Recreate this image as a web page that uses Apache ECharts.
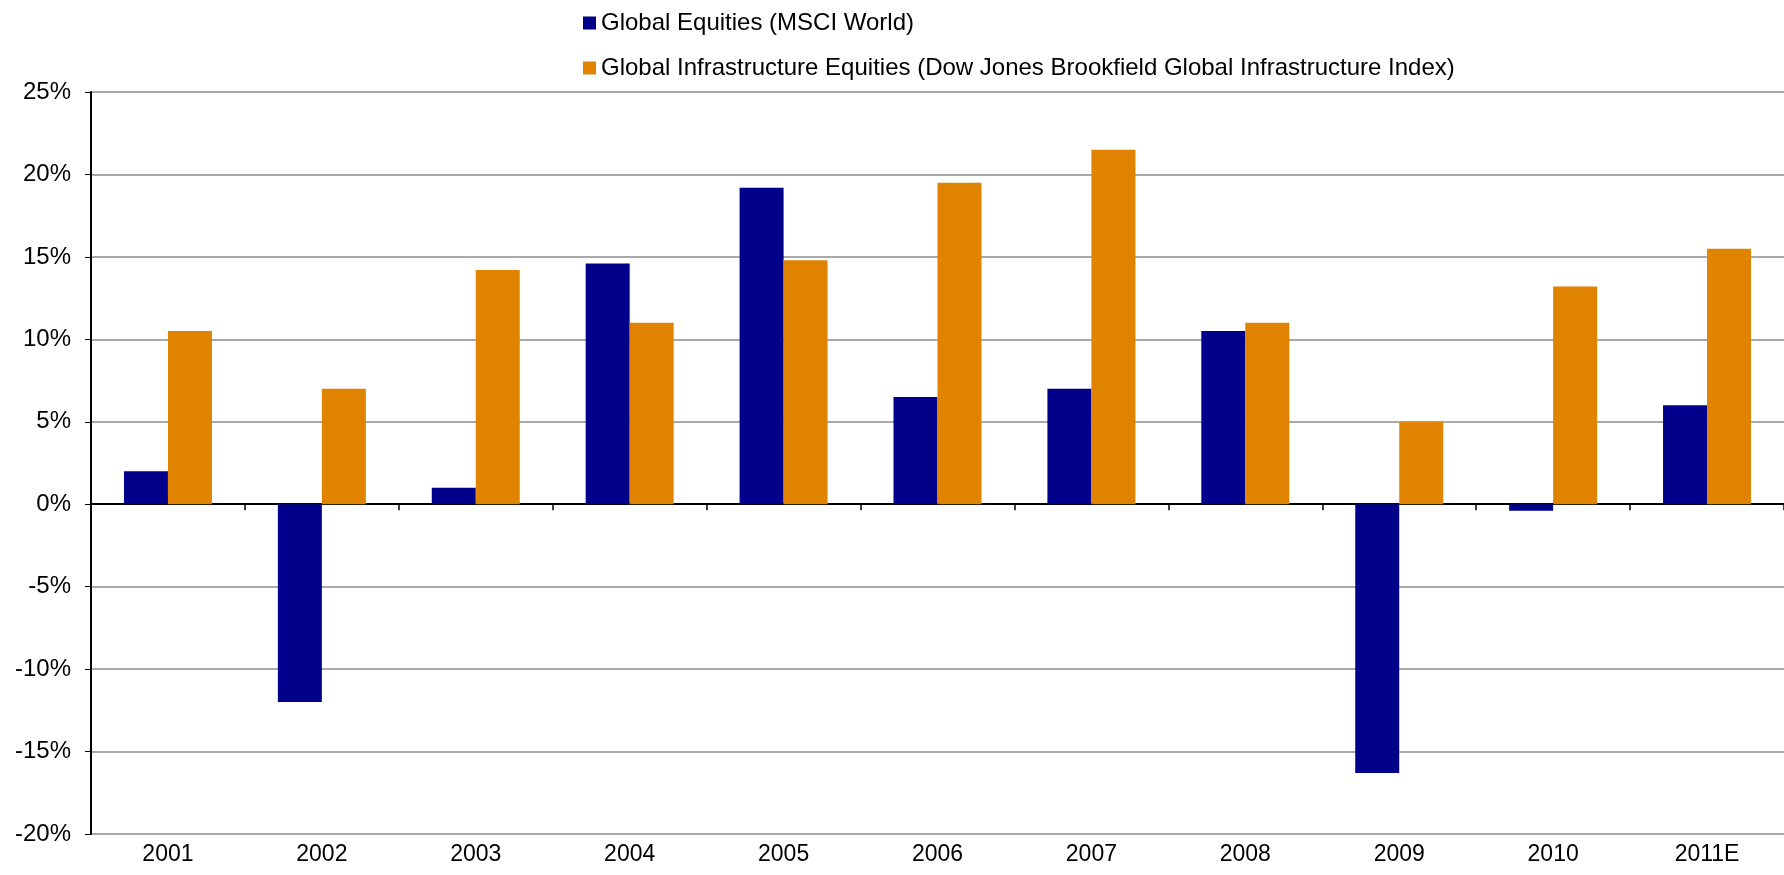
<!DOCTYPE html>
<html>
<head>
<meta charset="utf-8">
<script src="https://cdn.jsdelivr.net/npm/echarts@6/dist/echarts.min.js"></script>
<style>
html,body{margin:0;padding:0;background:#fff;}
#chart{width:1784px;height:875px;}
</style>
</head>
<body>
<div id="chart"></div>
<script>
const categories = ['2001','2002','2003','2004','2005','2006','2007','2008','2009','2010','2011E'];
const globalEquities = [2.0, -12.0, 1.0, 14.6, 19.2, 6.5, 7.0, 10.5, -16.3, -0.4, 6.0];
const infraEquities = [10.5, 7.0, 14.2, 11.0, 14.8, 19.5, 21.5, 11.0, 5.0, 13.2, 15.5];
const seriesNames = ['Global Equities (MSCI World)', 'Global Infrastructure Equities (Dow Jones Brookfield Global Infrastructure Index)'];
const yTicks = { min: -20, max: 25, interval: 5 };

const FONT = '"Liberation Sans", Arial, sans-serif';
const chart = echarts.init(document.getElementById('chart'), null, { renderer: 'canvas' });
chart.setOption({
  animation: false,
  backgroundColor: '#ffffff',
  textStyle: { fontFamily: FONT },
  legend: {
    orient: 'vertical',
    left: 578,
    top: 6,
    icon: 'rect',
    itemWidth: 13,
    itemHeight: 13,
    itemGap: 21,
    textStyle: { fontFamily: FONT, fontSize: 24, color: '#000', lineHeight: 24 },
    data: seriesNames
  },
  grid: { left: 91, right: 0, top: 92, bottom: 41, containLabel: false },
  xAxis: [
    {
      type: 'category',
      data: categories,
      position: 'bottom',
      axisLine: { show: false, onZero: false },
      axisTick: { show: false },
      axisLabel: { fontFamily: FONT, fontSize: 23, color: '#000', margin: 9 },
      splitLine: { show: false }
    },
    {
      type: 'category',
      data: categories,
      position: 'top',
      axisLine: { show: true, onZero: true, lineStyle: { color: '#000', width: 2 } },
      axisTick: { show: true, inside: true, length: 6, lineStyle: { color: '#000', width: 1.5 } },
      axisLabel: { show: false },
      splitLine: { show: false }
    }
  ],
  yAxis: {
    type: 'value',
    min: yTicks.min,
    max: yTicks.max,
    interval: yTicks.interval,
    axisLine: { show: true, onZero: false, lineStyle: { color: '#000', width: 2 } },
    axisTick: { show: true, length: 6, lineStyle: { color: '#000', width: 1 } },
    axisLabel: { fontFamily: FONT, fontSize: 24, color: '#000', margin: 20, formatter: '{value}%' },
    splitLine: { show: true, lineStyle: { color: '#8c8c8c', width: 1.5 } }
  },
  series: [
    {
      name: seriesNames[0],
      type: 'bar',
      xAxisIndex: 0,
      data: globalEquities,
      barWidth: 44,
      barGap: '0%',
      itemStyle: { color: '#00008a' }
    },
    {
      name: seriesNames[1],
      type: 'bar',
      xAxisIndex: 0,
      data: infraEquities,
      barWidth: 44,
      barGap: '0%',
      itemStyle: { color: '#df8300' }
    }
  ]
});
</script>
</body>
</html>
